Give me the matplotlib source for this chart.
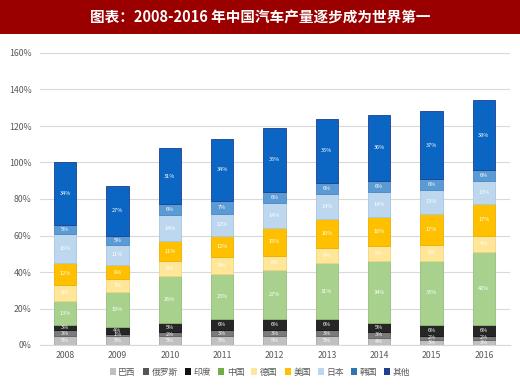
import matplotlib
matplotlib.use("Agg")
import matplotlib.pyplot as plt
from matplotlib.patches import Rectangle
import numpy as np

plt.rcParams['font.family'] = ['Noto Sans CJK SC', 'DejaVu Sans']

years = ['2008', '2009', '2010', '2011', '2012', '2013', '2014', '2015', '2016']
series_names = ['巴西', '俄罗斯', '印度', '中国', '德国', '美国', '日本', '韩国', '其他']
brazil = [5, 5, 5, 5, 5, 5, 4, 3, 3]
russia = [3, 1, 2, 3, 3, 3, 3, 2, 2]
india = [3, 4, 5, 6, 6, 6, 5, 6, 6]
china = [13, 19, 26, 25, 27, 31, 34, 35, 40]
germany = [9, 7, 8, 9, 8, 8, 8, 9, 9]
usa = [12, 8, 11, 12, 15, 16, 16, 17, 17]
japan = [16, 11, 14, 12, 14, 14, 14, 13, 13]
korea = [5, 5, 6, 7, 6, 6, 6, 6, 6]
other = [34, 27, 31, 34, 35, 35, 36, 37, 38]
y_ticks = [0, 20, 40, 60, 80, 100, 120, 140, 160]

series = [brazil, russia, india, china, germany, usa, japan, korea, other]
colors = ['#c0c0c0', '#7a7a7a', '#262626', '#a9d18e', '#ffe699', '#ffc000',
          '#bdd7ee', '#5b9bd5', '#0a66c2']
edges = ['#a8a8a8', '#606060', '#111111', '#94bf78', '#f0d682', '#e8b000',
         '#a8c6e4', '#4a88c2', '#1f3f8f']
legend_colors = ['#c0c0c0', '#555555', '#111111', '#70ad47', '#ffe699', '#ffc000',
                 '#bdd7ee', '#2e75b6', '#1f3f8f']

fig = plt.figure(figsize=(5.2, 3.91), dpi=100)
fig.patch.set_facecolor('white')

# title banner
fig.patches.append(Rectangle((0, 1 - 34 / 391), 1, 34 / 391, transform=fig.transFigure,
                             facecolor='#9b0000', edgecolor='none', zorder=0))
fig.text(0.5, 1 - 17 / 391, '图表：2008-2016 年中国汽车产量逐步成为世界第一',
         ha='center', va='center', color='white', fontsize=10.5, fontweight='bold')

ax = fig.add_axes([40 / 520, 46 / 391, 470 / 520, 292 / 391])
x = np.arange(len(years))
bottom = np.zeros(len(years))
for name, vals, c, ec in zip(series_names, series, colors, edges):
    vals = np.array(vals, dtype=float)
    ax.bar(x, vals, 0.43, bottom=bottom, color=c, edgecolor=ec, linewidth=0.6,
           label=name, zorder=3)
    for xi, v, b in zip(x, vals, bottom):
        ax.text(xi, b + v / 2, f'{int(v)}%', ha='center', va='center',
                color='white', fontsize=4, zorder=4)
    bottom += vals

ax.set_xlim(-0.48, 8.5)
ax.set_ylim(0, 160)
ax.set_yticks(y_ticks)
ax.set_yticklabels([f'{t}%' for t in y_ticks])
ax.set_xticks(x)
ax.set_xticklabels(years)
ax.grid(axis='y', color='#d9d9d9', linewidth=0.8, zorder=0)
ax.set_axisbelow(True)
for s in ['top', 'right', 'left']:
    ax.spines[s].set_visible(False)
ax.spines['bottom'].set_color('#d9d9d9')
ax.tick_params(axis='both', length=0, labelsize=6.3, colors='#595959')
ax.tick_params(axis='y', pad=6)
ax.tick_params(axis='x', pad=4)

handles = [Rectangle((0, 0), 1, 1, facecolor=c, edgecolor='none') for c in legend_colors]
fig.legend(handles, series_names, loc='center', bbox_to_anchor=(0.5, 1 - 372 / 391),
           ncol=9, frameon=False, fontsize=6.3, handlelength=0.7, handleheight=0.7,
           handletextpad=0.3, columnspacing=0.8, labelcolor='#595959')

fig.savefig('out.png', dpi=100)
